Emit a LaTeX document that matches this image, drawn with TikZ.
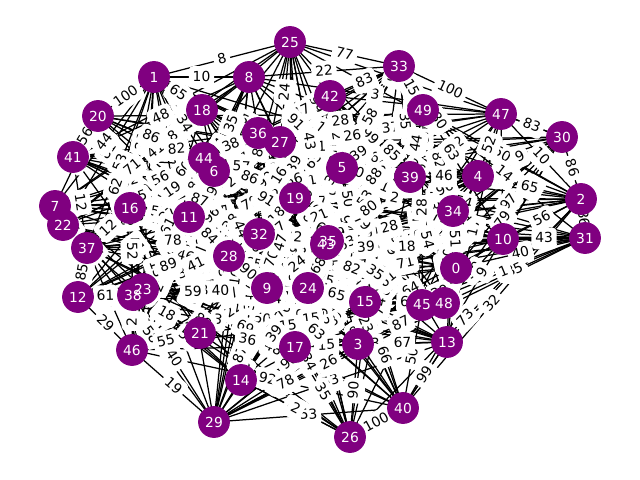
\documentclass[tikz,border=0pt]{standalone}
\usepackage{fontspec}
\setmainfont{DejaVu Sans}
\definecolor{nodepurple}{RGB}{128,0,128}
\pgfdeclarelayer{bg}
\pgfdeclarelayer{fg}
\pgfsetlayers{bg,main,fg}
\newcount\myhc
\newcount\myhd
\newcommand\mylcgstep{\myhc=\numexpr\myhc*25173+13849\relax
  \myhd=\myhc \divide\myhd by 65536 \multiply\myhd by 65536 \advance\myhc by -\myhd}
\newcommand\mypairhash[2]{\myhc=\numexpr #1*50+#2+7\relax\mylcgstep\mylcgstep\mylcgstep}
\begin{document}
\begin{tikzpicture}[x=0.254mm,y=-0.254mm,
  gnode/.style={circle,fill=nodepurple,minimum size=23pt,inner sep=0pt},
  ntext/.style={text=white,inner sep=0pt,font=\fontsize{10}{12}\selectfont},
  edge/.style={line width=0.9pt,black},
  elabel/.style={fill=white,rounded corners=3pt,inner sep=2.8pt,text height=8pt,text depth=2pt,font=\fontsize{10}{12}\selectfont,sloped,midway}]
\useasboundingbox (0,0) rectangle (640,480);
\foreach \n/\x/\y in {0/456/268, 1/154/77, 2/581/199, 3/358/344, 4/478/176, 5/342/168, 6/214/171, 7/55/206, 8/249/77, 9/267/288, 10/503/239, 11/189/217, 12/78/297, 13/447/342, 14/241/380, 15/365/302, 16/130/208, 17/295/347, 18/202/110, 19/295/198, 20/98/116, 21/200/333, 22/63/225, 23/143/289, 24/308/288, 25/290/42, 26/350/437, 27/280/142, 28/229/256, 29/214/422, 30/562/137, 31/585/238, 32/259/234, 33/399/66, 34/453/211, 35/328/241, 36/258/133, 37/87/248, 38/133/295, 39/410/177, 40/403/408, 41/73/157, 42/330/96, 43/326/244, 44/204/158, 45/422/305, 46/132/350, 47/501/114, 48/444/303, 49/423/110}
  \node[gnode] (n\n) at (\x,\y) {};
\foreach \n in {0,...,49}
  \node[ntext] at (n\n) {\n};
\def\edgelist{25/1/8, 1/8/10, 25/33/77, 1/20/100, 33/47/100, 47/30/83, 42/33/83, 1/18/65, 1/6/34, 20/44/86, 20/41/56, 1/7/44, 1/37/53, 18/22/71, 1/12/62, 25/27/24, 8/5/91, 8/6/35, 25/35/43, 33/5/58, 33/49/15, 33/4/80, 49/39/44, 33/10/63, 47/4/52, 30/4/9, 30/2/86, 2/4/65, 2/10/56, 31/10/43, 31/48/85, 31/45/1, 2/40/32, 34/0/51, 40/13/99, 26/40/100, 3/13/67, 29/40/53, 14/26/2, 29/3/78, 29/46/19, 29/38/40, 29/9/87, 12/46/29, 46/38/2, 12/38/61, 12/37/85, 16/37/12, 8/33/22, 36/44/38,
28/10/39, 28/31/18, 37/32/78, 12/32/89, 38/32/41, 12/24/59, 38/24/40, 11/28/84, 6/9/44, 19/9/47, 9/35/24, 28/9/90, 44/19/86, 28/42/16, 44/35/91, 32/48/82, 24/15/65, 4/39/46, 49/45/28, 41/21/41, 16/38/52, 46/21/55, 21/17/36, 14/24/39, 26/3/90, 15/40/66, 3/48/87, 17/26/35, 47/2/10, 30/48/79}
\begin{pgfonlayer}{bg}
\foreach \i in {0,...,48}{
  \pgfmathtruncatemacro\js{\i+1}
  \foreach \j in {\js,...,49}{
    \mypairhash{\i}{\j}
    \ifnum\myhc<19661 \draw[edge] (n\i.center) -- (n\j.center);\fi
  }
}
\foreach \a/\b/\w in \edgelist
  \draw[edge] (n\a.center) -- (n\b.center);
\foreach \i in {0,...,48}{
  \pgfmathtruncatemacro\js{\i+1}
  \foreach \j in {\js,...,49}{
    \mypairhash{\i}{\j}
    \edef\edgeon{\ifnum\myhc<19661 1\else 0\fi}
    \mylcgstep
    \edef\wt{\the\numexpr(\myhc*99)/65535+1\relax}
    \ifnum\edgeon=1 \path (n\i.center) -- node[elabel] {\wt} (n\j.center);\fi
  }
}
\foreach \a/\b/\w in \edgelist
  \path (n\a.center) -- node[elabel] {\w} (n\b.center);
\end{pgfonlayer}
\end{tikzpicture}
\end{document}
